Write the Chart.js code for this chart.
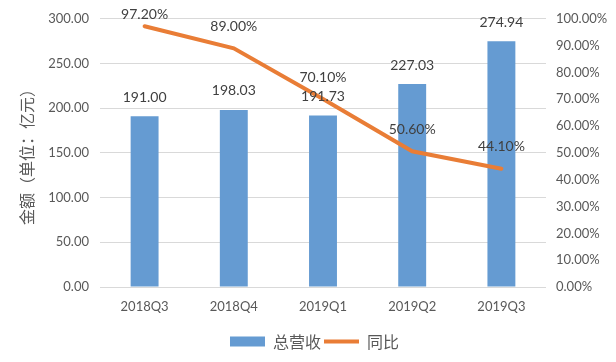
<!DOCTYPE html>
<html>
<head>
<meta charset="utf-8">
<script src="https://cdn.jsdelivr.net/npm/chart.js@4.4.0/dist/chart.umd.min.js"></script>
<style>
  html, body { margin: 0; padding: 0; background: #fff; }
  #wrap { width: 616px; height: 362px; }
</style>
</head>
<body>
<div id="wrap"><canvas id="chart" width="616" height="362"></canvas></div>
<script>
const quarters = ['2018Q3', '2018Q4', '2019Q1', '2019Q2', '2019Q3'];
const revenue = [191.00, 198.03, 191.73, 227.03, 274.94];
const yoy = [97.20, 89.00, 70.10, 50.60, 44.10];

const numFont = 'Lato, "Noto Sans CJK SC", sans-serif';
const cjkFont = '"Noto Sans CJK SC", sans-serif';
const textGray = '#595959';

// draws the value labels above bars and line points
const valueLabels = {
    id: 'valueLabels',
    afterDatasetsDraw(chart) {
        let ctx = chart.ctx;
        ctx.save();
        ctx.font = '14px ' + numFont;
        ctx.fillStyle = '#404040';
        ctx.textAlign = 'center';
        ctx.textBaseline = 'middle';
        chart.getDatasetMeta(0).data.forEach((bar, i) => {
            ctx.fillText(revenue[i].toFixed(2), bar.x, bar.y - 19);
        });
        chart.getDatasetMeta(1).data.forEach((pt, i) => {
            let y = Math.max(pt.y - 22, 14);
            ctx.fillText(yoy[i].toFixed(2) + '%', pt.x, y);
        });
        ctx.restore();
    }
};

let ctx = document.getElementById('chart').getContext('2d');
let chart = new Chart(ctx, {
    type: 'bar',
    data: {
        labels: quarters,
        datasets: [{
            type: 'bar',
            label: '总营收',
            data: revenue,
            backgroundColor: '#659BD2',
            borderWidth: 0,
            categoryPercentage: 1,
            barPercentage: 0.313,
            yAxisID: 'y',
            order: 1,
            pointStyle: 'rect'
        }, {
            type: 'line',
            label: '同比',
            data: yoy,
            borderColor: '#E97D36',
            backgroundColor: '#E97D36',
            borderWidth: 4,
            borderCapStyle: 'round',
            tension: 0,
            pointRadius: 0,
            pointHoverRadius: 0,
            pointStyle: 'line',
            yAxisID: 'y1',
            order: 0
        }]
    },
    options: {
        responsive: false,
        animation: false,
        layout: { padding: { left: 13, right: 0, top: 17, bottom: 2.5 } },
        scales: {
            x: {
                grid: { display: false, drawTicks: false },
                border: { display: false },
                ticks: { color: textGray, font: { family: numFont, size: 13 }, padding: 12 },
                afterFit: (scale) => { scale.height = 43.5; }
            },
            y: {
                position: 'left',
                min: 0,
                max: 300,
                grid: { color: '#d9d9d9', drawTicks: false },
                border: { display: false },
                ticks: {
                    stepSize: 50,
                    color: textGray,
                    padding: 11,
                    font: { family: numFont, size: 13 },
                    callback: (v) => v.toFixed(2)
                },
                title: {
                    display: true,
                    text: '金额（单位：亿元）',
                    color: textGray,
                    font: { family: cjkFont, size: 16 }
                },
                afterFit: (scale) => { scale.width = 87; }
            },
            y1: {
                position: 'right',
                min: 0,
                max: 100,
                grid: { display: false, drawTicks: false },
                border: { display: false },
                ticks: {
                    stepSize: 10,
                    color: textGray,
                    padding: 10,
                    font: { family: numFont, size: 13 },
                    callback: (v) => v.toFixed(2) + '%'
                },
                afterFit: (scale) => { scale.width = 70; }
            }
        },
        plugins: {
            tooltip: { enabled: false },
            legend: {
                position: 'bottom',
                labels: {
                    usePointStyle: true,
                    pointStyleWidth: 35,
                    boxHeight: 10,
                    padding: 3,
                    color: textGray,
                    font: { family: cjkFont, size: 16 },
                    sort: (a, b) => a.datasetIndex - b.datasetIndex
                }
            }
        }
    },
    plugins: [valueLabels]
});
</script>
</body>
</html>
